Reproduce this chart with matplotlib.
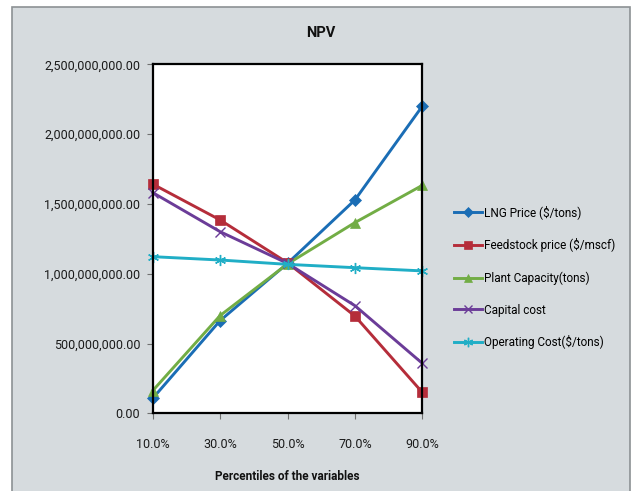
import matplotlib
matplotlib.use("Agg")
import matplotlib.pyplot as plt
from matplotlib.patches import Rectangle
from matplotlib.ticker import FuncFormatter

plt.rcParams['font.family'] = ['Roboto', 'DejaVu Sans']

percentiles = [10, 30, 50, 70, 90]
tick_labels = ["10.0%", "30.0%", "50.0%", "70.0%", "90.0%"]

lng_price = [0.107e9, 0.664e9, 1.074e9, 1.528e9, 2.200e9]
feedstock_price = [1.642e9, 1.385e9, 1.078e9, 0.697e9, 0.150e9]
plant_capacity = [0.162e9, 0.700e9, 1.070e9, 1.366e9, 1.633e9]
capital_cost = [1.581e9, 1.301e9, 1.074e9, 0.771e9, 0.358e9]
operating_cost = [1.122e9, 1.098e9, 1.067e9, 1.043e9, 1.020e9]

series = [
    ("LNG Price ($/tons)", lng_price, "#1a6db5", "D", 6),
    ("Feedstock price ($/mscf)", feedstock_price, "#b52d3a", "s", 6.5),
    ("Plant Capacity(tons)", plant_capacity, "#72ad45", "^", 7.5),
    ("Capital cost", capital_cost, "#6b3c98", "x", 7),
    ("Operating Cost($/tons)", operating_cost, "#20aec6", (6, 2, 0), 8),
]

W, H = 631, 491
fig = plt.figure(figsize=(W / 100, H / 100), dpi=100)
fig.patch.set_facecolor("white")
bg = Rectangle((12 / W, -0.01), (630 - 12) / W, 1 - 7 / H + 0.01,
               transform=fig.transFigure, facecolor="#d6dbde",
               edgecolor="#8c9194", linewidth=1.2, zorder=-10)
fig.patches.append(bg)

ax = fig.add_axes([152.7 / W, 1 - 413.3 / H, (422.3 - 152.7) / W, (413.3 - 64.3) / H])
ax.set_facecolor("white")

for name, vals, col, mk, ms in series:
    thin = mk == "x" or isinstance(mk, tuple)
    ax.plot(percentiles, vals, color=col, lw=2.1, marker=mk, markersize=ms,
            markeredgewidth=1.0 if thin else 0.5,
            markeredgecolor=col, markerfacecolor=col, label=name, clip_on=False)

ax.set_xlim(10, 90)
ax.set_ylim(0, 2.5e9)
ax.set_xticks(percentiles)
ax.set_xticklabels(tick_labels)
ax.set_yticks([0, 0.5e9, 1.0e9, 1.5e9, 2.0e9, 2.5e9])
ax.yaxis.set_major_formatter(FuncFormatter(lambda v, p: f"{v:,.2f}"))

for s in ax.spines.values():
    s.set_linewidth(1.6)
    s.set_color("black")

ax.tick_params(axis="y", direction="out", length=4, width=0.8, color="#707070",
               labelsize=9, pad=5, labelcolor="#1a1a1a")
ax.tick_params(axis="x", direction="out", length=4, width=0.8, color="#707070",
               labelsize=9, pad=14, labelcolor="#1a1a1a")

fig.text(321 / W, 1 - 33.3 / H, "NPV", ha="center", va="center",
         fontsize=10.5, fontweight="bold", color="#111111")
fig.text(287.5 / W, 1 - 476.7 / H, "Percentiles of the variables", ha="center",
         va="center", fontsize=8.5, fontweight="bold", color="#111111")

leg = fig.legend(loc="upper left", bbox_to_anchor=(454 / W, 1 - 205.5 / H),
                 frameon=False, fontsize=8.5, handlelength=2.4, handletextpad=0.1,
                 labelspacing=1.6, borderpad=0, borderaxespad=0, markerscale=0.85)

fig.savefig("out.png", dpi=100, facecolor=fig.get_facecolor())
